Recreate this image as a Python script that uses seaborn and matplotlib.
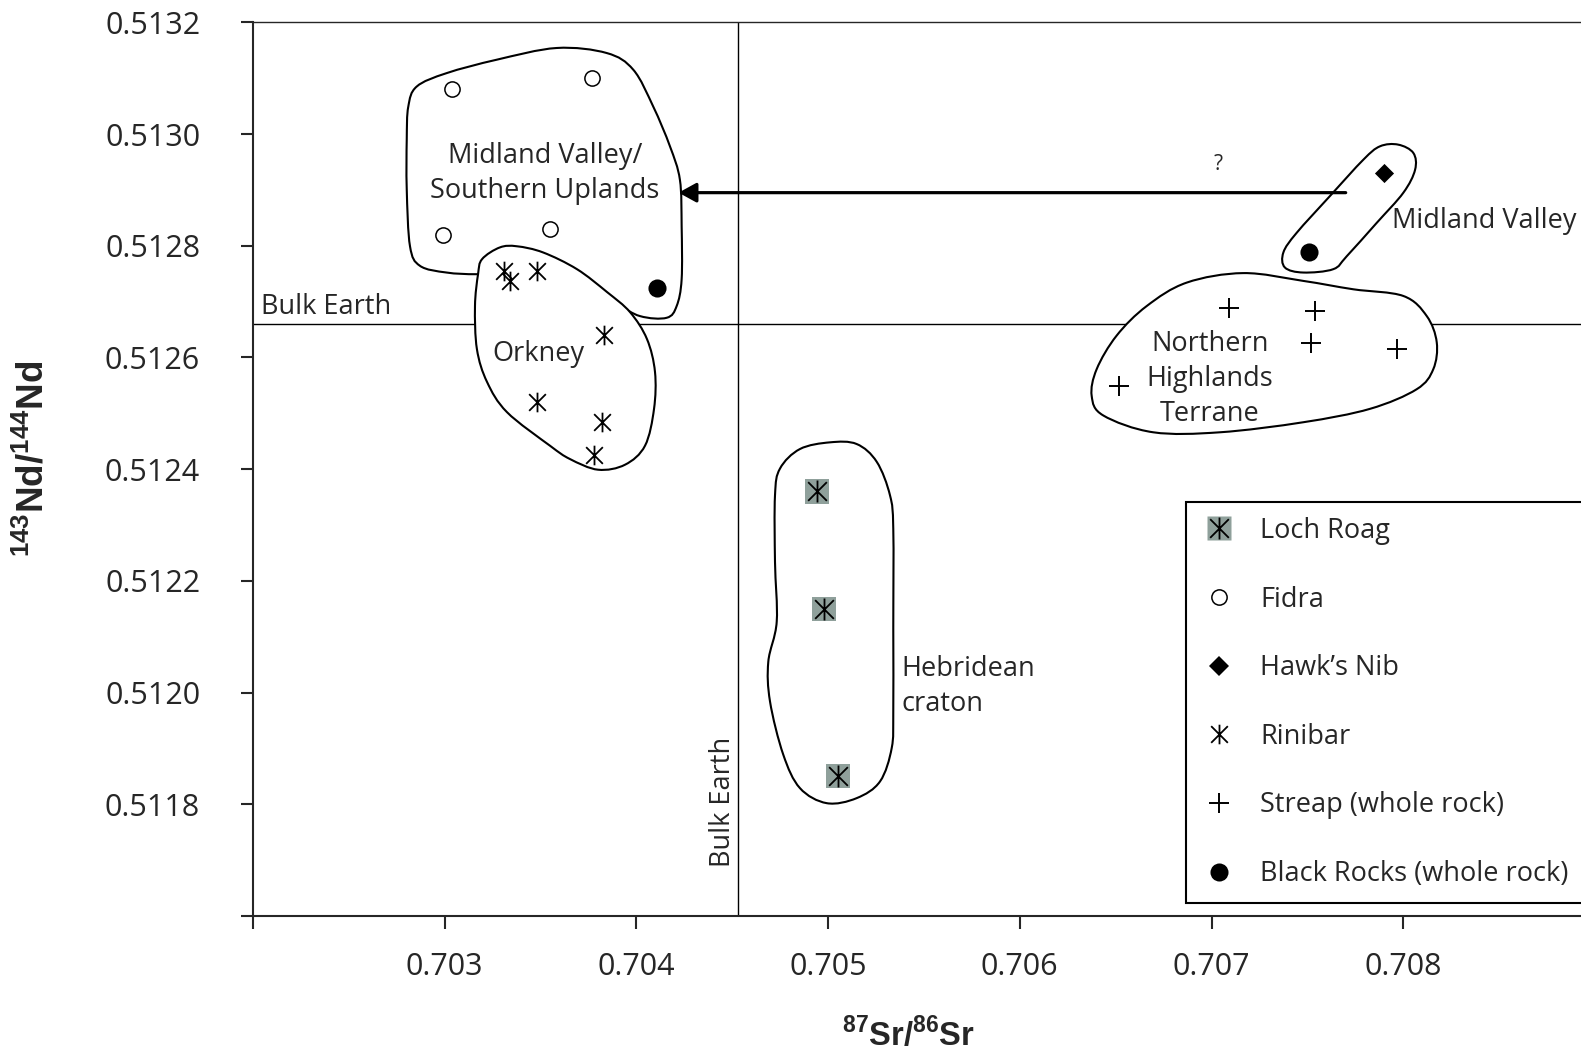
### Sr-Nd isotope plot with terrane fields
import numpy as np
import matplotlib.pyplot as plt
import seaborn as sns
from matplotlib.path import Path
from matplotlib.patches import PathPatch
from matplotlib.lines import Line2D

### data ###
loch_roag_sr = [0.70494, 0.70498, 0.70505]
loch_roag_nd = [0.51236, 0.51215, 0.51185]
fidra_sr = [0.70304, 0.70377, 0.70299, 0.70355]
fidra_nd = [0.51308, 0.51310, 0.51282, 0.51283]
hawks_sr = [0.70790]
hawks_nd = [0.51293]
rinibar_sr = [0.70331, 0.70334, 0.70348, 0.70383, 0.70348, 0.70382, 0.70378]
rinibar_nd = [0.512755, 0.512737, 0.512755, 0.512640, 0.512521, 0.512485, 0.512426]
streap_sr = [0.70709, 0.70754, 0.70752, 0.70797, 0.70652]
streap_nd = [0.512688, 0.512683, 0.512625, 0.512615, 0.512549]
black_sr = [0.70411, 0.70751]
black_nd = [0.512725, 0.512789]

bulk_sr = 0.70453
bulk_nd = 0.51266

x_ticks = [0.702, 0.703, 0.704, 0.705, 0.706, 0.707, 0.708]
x_labels = ["", "0.703", "0.704", "0.705", "0.706", "0.707", "0.708"]
y_ticks = [0.5116, 0.5118, 0.5120, 0.5122, 0.5124, 0.5126, 0.5128, 0.5130, 0.5132]
y_labels = ["", "0.5118", "0.5120", "0.5122", "0.5124", "0.5126", "0.5128", "0.5130", "0.5132"]

# hand drawn fields (outline points, Sr / Nd)
mvsu_sr = [0.702810, 0.702854, 0.703010, 0.703271, 0.703584, 0.703845, 0.703984, 0.704088,
           0.704175, 0.704227, 0.704236, 0.704236, 0.704210, 0.704158, 0.704019, 0.703880,
           0.703532, 0.703184, 0.703010, 0.702871, 0.702819, 0.702802, 0.702802]
mvsu_nd = [0.513049, 0.513085, 0.513109, 0.513133, 0.513154, 0.513145, 0.513115, 0.513049,
           0.512978, 0.512918, 0.512835, 0.512740, 0.512692, 0.512671, 0.512674, 0.512698,
           0.512752, 0.512749, 0.512752, 0.512764, 0.512799, 0.512901, 0.512990]
orkney_sr = [0.703288, 0.703377, 0.703513, 0.703690, 0.703847, 0.703967, 0.704055, 0.704097,
             0.704092, 0.704045, 0.703941, 0.703800, 0.703654, 0.703549, 0.703325, 0.703221,
             0.703168, 0.703158, 0.703174, 0.703195]
orkney_nd = [0.512797, 0.512799, 0.512788, 0.512758, 0.512717, 0.512681, 0.512633, 0.512574,
             0.512508, 0.512442, 0.512408, 0.512399, 0.512418, 0.512442, 0.512502, 0.512556,
             0.512615, 0.512692, 0.512749, 0.512776]
hebr_sr = [0.705010, 0.705149, 0.705254, 0.705323, 0.705340, 0.705340, 0.705340, 0.705332,
           0.705271, 0.705149, 0.704993, 0.704853, 0.704766, 0.704697, 0.704688, 0.704732,
           0.704723, 0.704723, 0.704749, 0.704853]
hebr_nd = [0.512448, 0.512445, 0.512413, 0.512353, 0.512293, 0.512115, 0.511966, 0.511901,
           0.511841, 0.511811, 0.511802, 0.511829, 0.511889, 0.511984, 0.512055, 0.512127,
           0.512234, 0.512353, 0.512401, 0.512436]
nht_sr = [0.707166, 0.707479, 0.707740, 0.708001, 0.708123, 0.708175, 0.708157, 0.708070,
          0.707827, 0.707479, 0.707044, 0.706696, 0.706436, 0.706375, 0.706401, 0.706505,
          0.706662, 0.706871]
nht_nd = [0.512751, 0.512737, 0.512722, 0.512710, 0.512674, 0.512627, 0.512579, 0.512543,
          0.512508, 0.512484, 0.512466, 0.512466, 0.512496, 0.512531, 0.512579, 0.512639,
          0.512692, 0.512734]
mv_sr = [0.707974, 0.708053, 0.708062, 0.708001, 0.707862, 0.707705, 0.707635, 0.707479,
         0.707383, 0.707375, 0.707444, 0.707618, 0.707792, 0.707879]
mv_nd = [0.512981, 0.512966, 0.512936, 0.512895, 0.512841, 0.512781, 0.512758, 0.512752,
         0.512761, 0.512788, 0.512823, 0.512889, 0.512954, 0.512978]

arrow_from = (0.70770, 0.512895)
arrow_to = (0.70422, 0.512895)


def field(ax, xs, ys, fill="none", z=2):
    # closed smooth curve through the outline points (Catmull-Rom as cubic Bezier)
    p = np.column_stack([xs, ys])
    n = len(p)
    verts = [p[0]]
    codes = [Path.MOVETO]
    for i in range(n):
        p0, p1, p2, p3 = p[i - 1], p[i], p[(i + 1) % n], p[(i + 2) % n]
        verts += [p1 + (p2 - p0) / 6, p2 - (p3 - p1) / 6, p2]
        codes += [Path.CURVE4] * 3
    ax.add_patch(PathPatch(Path(verts, codes), facecolor=fill, edgecolor="black",
                           lw=1.5, zorder=z))


sns.set_style("ticks")
plt.rcParams["font.family"] = ["Open Sans", "DejaVu Sans"]
plt.rcParams["mathtext.fontset"] = "custom"
plt.rcParams["mathtext.rm"] = "Liberation Sans"
plt.rcParams["mathtext.bf"] = "Liberation Sans:bold"

fs = 19.5
ls = 1.33
fig = plt.figure(figsize=(15.81, 10.60), dpi=100)
ax = fig.add_axes([253 / 1581, 1 - 916 / 1060, 1 - 253 / 1581, (916 - 22.3) / 1060])

# bulk earth reference lines
ax.axhline(bulk_nd, color="black", lw=1.0, zorder=1)
ax.axvline(bulk_sr, color="black", lw=1.0, zorder=1)

# fields
field(ax, mvsu_sr, mvsu_nd, z=2)
field(ax, orkney_sr, orkney_nd, fill="white", z=3)
field(ax, nht_sr, nht_nd, fill="white", z=3)
field(ax, hebr_sr, hebr_nd, z=2)
field(ax, mv_sr, mv_nd, z=2)

# markers
ast = Path([(0, -1), (0, 1), (-0.85, -0.85), (0.85, 0.85), (-0.85, 0.85), (0.85, -0.85)],
           [Path.MOVETO, Path.LINETO] * 3)
grey = "#8fa09b"

sns.scatterplot(x=loch_roag_sr, y=loch_roag_nd, marker="s", s=300, color=grey,
                edgecolor="none", linewidth=0, ax=ax, zorder=5)
sns.scatterplot(x=loch_roag_sr, y=loch_roag_nd, marker=ast, s=250, color="black",
                edgecolor="black", linewidth=1.3, ax=ax, zorder=6)
sns.scatterplot(x=fidra_sr, y=fidra_nd, marker="o", s=120, color="white",
                edgecolor="black", linewidth=1.1, ax=ax, zorder=5)
sns.scatterplot(x=hawks_sr, y=hawks_nd, marker="D", s=95, color="black",
                edgecolor="black", linewidth=0, ax=ax, zorder=5)
sns.scatterplot(x=rinibar_sr, y=rinibar_nd, marker=ast, s=200, color="black",
                edgecolor="black", linewidth=1.3, ax=ax, zorder=5)
sns.scatterplot(x=streap_sr, y=streap_nd, marker="+", s=210, color="black",
                linewidth=1.4, ax=ax, zorder=5)
sns.scatterplot(x=black_sr, y=black_nd, marker="o", s=170, color="black",
                edgecolor="black", linewidth=0, ax=ax, zorder=5)

# arrow
ax.annotate("", xy=arrow_to, xytext=arrow_from,
            arrowprops=dict(arrowstyle="-|>,head_length=0.4,head_width=0.22",
                            mutation_scale=27, lw=2.3, color="black",
                            shrinkA=0, shrinkB=0), zorder=7)
ax.text(0.707034, 0.512945, "?", fontsize=15, ha="center", va="center")

# field labels
ax.text(0.703523, 0.512929, "Midland Valley/\nSouthern Uplands", fontsize=fs,
        ha="center", va="center", linespacing=ls, zorder=8)
ax.text(0.703488, 0.512606, "Orkney", fontsize=fs, ha="center", va="center", zorder=8)
ax.text(0.705384, 0.512011, "Hebridean\ncraton", fontsize=fs, ha="left", va="center",
        linespacing=ls)
ax.text(0.707940, 0.512844, "Midland Valley", fontsize=fs, ha="left", va="center")
ax.text(0.706992, 0.512561, "Northern\nHighlands\nTerrane", fontsize=fs,
        ha="center", va="center", linespacing=ls, zorder=8)
ax.annotate("Bulk Earth", xy=(0.702, bulk_nd), xytext=(6, 2), textcoords="offset points",
            fontsize=fs, ha="left", va="bottom")
ax.annotate("Bulk Earth", xy=(bulk_sr, 0.511688), xytext=(-1, 0), textcoords="offset points",
            fontsize=fs, rotation=90, ha="right", va="bottom")

# axes
ax.set_xlim(0.702, 0.702 + (1581 - 253) / 191700)
ax.set_ylim(0.5116, 0.5132)
ax.set_xticks(x_ticks)
ax.set_xticklabels(x_labels)
ax.set_yticks(y_ticks)
ax.set_yticklabels(y_labels)
ax.tick_params(axis="both", direction="out", length=9, width=1.5, labelsize=22)
ax.tick_params(axis="y", pad=29)
ax.tick_params(axis="x", pad=17)
ax.spines["right"].set_visible(False)
ax.spines["top"].set_linewidth(1.0)
ax.spines["left"].set_linewidth(1.5)
ax.spines["bottom"].set_linewidth(1.5)
ax.set_xlabel("")
ax.set_ylabel("")

fig.text(34 / 1581, 1 - 459 / 1060, r"$^{\mathbf{143}}\mathbf{Nd/}^{\mathbf{144}}\mathbf{Nd}$",
         fontsize=26.5, rotation=90, ha="center", va="center")
fig.text(908 / 1581, 1 - 1036 / 1060, r"$^{\mathbf{87}}\mathbf{Sr/}^{\mathbf{86}}\mathbf{Sr}$",
         fontsize=23.5, ha="center", va="center")

# legend
h_loch = (Line2D([], [], ls="none", marker="s", ms=17.3, mfc=grey, mec="none"),
          Line2D([], [], ls="none", marker=ast, ms=15.8, mfc="none", mec="black", mew=1.3))
h_fidra = Line2D([], [], ls="none", marker="o", ms=11, mfc="white", mec="black", mew=1.1)
h_hawk = Line2D([], [], ls="none", marker="D", ms=9.7, mfc="black", mec="black", mew=0)
h_rini = Line2D([], [], ls="none", marker=ast, ms=14.1, mfc="none", mec="black", mew=1.3)
h_streap = Line2D([], [], ls="none", marker="+", ms=14.5, mec="black", mew=1.4)
h_black = Line2D([], [], ls="none", marker="o", ms=13, mfc="black", mec="black", mew=0)
leg = ax.legend([h_loch, h_fidra, h_hawk, h_rini, h_streap, h_black],
                ["Loch Roag", "Fidra", "Hawk\u2019s Nib", "Rinibar",
                 "Streap (whole rock)", "Black Rocks (whole rock)"],
                loc="upper left", bbox_to_anchor=(1186 / 1581, 0, 0.3, 1 - 502 / 1060),
                bbox_transform=fig.transFigure, mode="expand", borderaxespad=0,
                fontsize=fs, frameon=True, fancybox=False, framealpha=1,
                edgecolor="black", borderpad=0.55, labelspacing=1.5,
                handlelength=1.37, handletextpad=0.83)
leg.get_frame().set_linewidth(1.5)
leg.set_zorder(10)

plt.savefig("out.png", dpi=100)
